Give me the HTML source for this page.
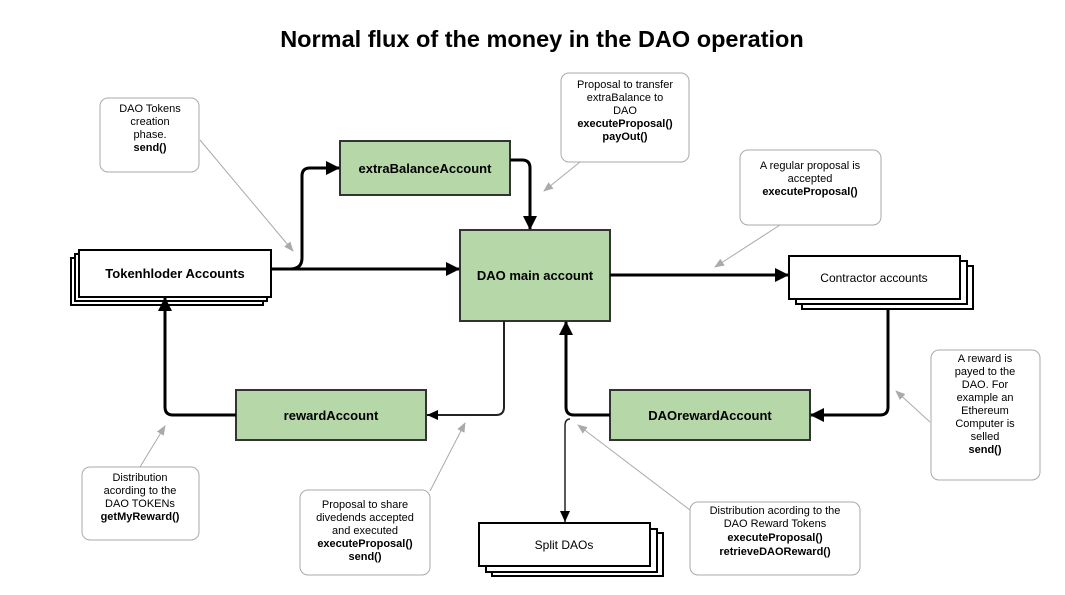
<!DOCTYPE html>
<html><head><meta charset="utf-8"><style>
html,body{margin:0;padding:0;background:#fff;}
svg{display:block;font-family:"Liberation Sans",Arial,sans-serif;}
</style></head><body>
<svg width="1065" height="595" viewBox="0 0 1065 595" xmlns="http://www.w3.org/2000/svg">
<defs>
<marker id="ab" markerWidth="14" markerHeight="14" refX="13" refY="7" orient="auto" markerUnits="userSpaceOnUse"><path d="M0,0 L14,7 L0,14 Z" fill="#000"/></marker>
<marker id="ag" markerWidth="10" markerHeight="10" refX="9" refY="5" orient="auto" markerUnits="userSpaceOnUse"><path d="M0,1 L10,5 L0,9 Z" fill="#aaa"/></marker>
<marker id="at" markerWidth="12" markerHeight="12" refX="11" refY="6" orient="auto" markerUnits="userSpaceOnUse"><path d="M0,1 L11,6 L0,11 Z" fill="#000"/></marker>
</defs>
<text x="542" y="47" text-anchor="middle" font-size="23.5" font-weight="bold">Normal flux of the money in the DAO operation</text>

<g fill="#fff" stroke="#000" stroke-width="2">
<rect x="71" y="258" width="192" height="47"/>
<rect x="75" y="254" width="192" height="47"/>
<rect x="79" y="250" width="192" height="47"/>
<rect x="802" y="266" width="171" height="43"/>
<rect x="796" y="261" width="171" height="43"/>
<rect x="789" y="256" width="171" height="43"/>
<rect x="492" y="533" width="171" height="43"/>
<rect x="486" y="529" width="171" height="43"/>
<rect x="479" y="523" width="171" height="43"/>
</g>
<g fill="#b6d7a8" stroke="#333" stroke-width="2">
<rect x="340" y="141" width="170" height="54"/>
<rect x="460" y="230" width="150" height="91"/>
<rect x="236" y="390" width="190" height="50"/>
<rect x="610" y="390" width="200" height="50"/>
</g>
<g font-size="13" font-weight="bold" text-anchor="middle">
<text x="175" y="278">Tokenhloder Accounts</text>
<text x="425" y="173">extraBalanceAccount</text>
<text x="535" y="280">DAO main account</text>
<text x="331" y="420">rewardAccount</text>
<text x="710" y="420">DAOrewardAccount</text>
</g>
<g font-size="12" text-anchor="middle">
<text x="874" y="282">Contractor accounts</text>
<text x="564" y="549">Split DAOs</text>
</g>

<g fill="none" stroke="#000" stroke-width="3">
<path d="M271,269 L459,269" marker-end="url(#ab)"/>
<path d="M290,269 Q302,269 302,258 L302,176 Q302,168 310,168 L339,168" marker-end="url(#ab)"/>
<path d="M510,160 L522,160 Q530,160 530,168 L530,229" marker-end="url(#ab)"/>
<path d="M610,275 L788,275" marker-end="url(#ab)"/>
<path d="M888,309 L888,407 Q888,415 880,415 L811,415" marker-end="url(#ab)"/>
<path d="M610,415 L574,415 Q566,415 566,407 L566,322" marker-end="url(#ab)"/>
<path d="M236,415 L173,415 Q165,415 165,407 L165,298" marker-end="url(#ab)"/>
</g>
<path d="M504,321 L504,407 Q504,415 496,415 L427,415" fill="none" stroke="#222" stroke-width="2" marker-end="url(#at)"/>
<path d="M570,419 Q565,419 565,426 L565,522" fill="none" stroke="#222" stroke-width="1.5" marker-end="url(#at)"/>

<g fill="#fff" stroke="#aaa" stroke-width="1">
<rect x="100" y="98" width="99" height="74" rx="8"/>
<rect x="561" y="73" width="128" height="89" rx="8"/>
<rect x="740" y="150" width="141" height="75" rx="8"/>
<rect x="931" y="350" width="109" height="130" rx="8"/>
<rect x="82" y="467" width="117" height="73" rx="8"/>
<rect x="300" y="490" width="130" height="85" rx="8"/>
<rect x="690" y="502" width="170" height="73" rx="8"/>
</g>
<g stroke="#aaa" stroke-width="1" fill="none">
<path d="M200,140 L293,251" marker-end="url(#ag)"/>
<path d="M580,162 L544,191" marker-end="url(#ag)"/>
<path d="M780,225 L715,267" marker-end="url(#ag)"/>
<path d="M930,422 L896,391" marker-end="url(#ag)"/>
<path d="M140,467 L165,426" marker-end="url(#ag)"/>
<path d="M430,491 L465,423" marker-end="url(#ag)"/>
<path d="M690,510 L578,425" marker-end="url(#ag)"/>
</g>
<g font-size="11" text-anchor="middle">
<text x="150" y="112">DAO Tokens</text>
<text x="150" y="125">creation</text>
<text x="150" y="138">phase.</text>
<text x="150" y="151" font-weight="bold">send()</text>
<text x="625" y="88">Proposal to transfer</text>
<text x="625" y="101">extraBalance to</text>
<text x="625" y="114">DAO</text>
<text x="625" y="127" font-weight="bold">executeProposal()</text>
<text x="625" y="140" font-weight="bold">payOut()</text>
<text x="810" y="169">A regular proposal is</text>
<text x="810" y="182">accepted</text>
<text x="810" y="195" font-weight="bold">executeProposal()</text>
<text x="985" y="362">A reward is</text>
<text x="985" y="375">payed to the</text>
<text x="985" y="388">DAO. For</text>
<text x="985" y="401">example an</text>
<text x="985" y="414">Ethereum</text>
<text x="985" y="427">Computer is</text>
<text x="985" y="440">selled</text>
<text x="985" y="453" font-weight="bold">send()</text>
<text x="140" y="481">Distribution</text>
<text x="140" y="494">acording to the</text>
<text x="140" y="507">DAO TOKENs</text>
<text x="140" y="520" font-weight="bold">getMyReward()</text>
<text x="365" y="508">Proposal to share</text>
<text x="365" y="521">divedends accepted</text>
<text x="365" y="534">and executed</text>
<text x="365" y="547" font-weight="bold">executeProposal()</text>
<text x="365" y="560" font-weight="bold">send()</text>
<text x="775" y="514">Distribution acording to the</text>
<text x="775" y="527">DAO Reward Tokens</text>
<text x="775" y="541" font-weight="bold">executeProposal()</text>
<text x="775" y="555" font-weight="bold">retrieveDAOReward()</text>
</g>
</svg>
</body></html>
